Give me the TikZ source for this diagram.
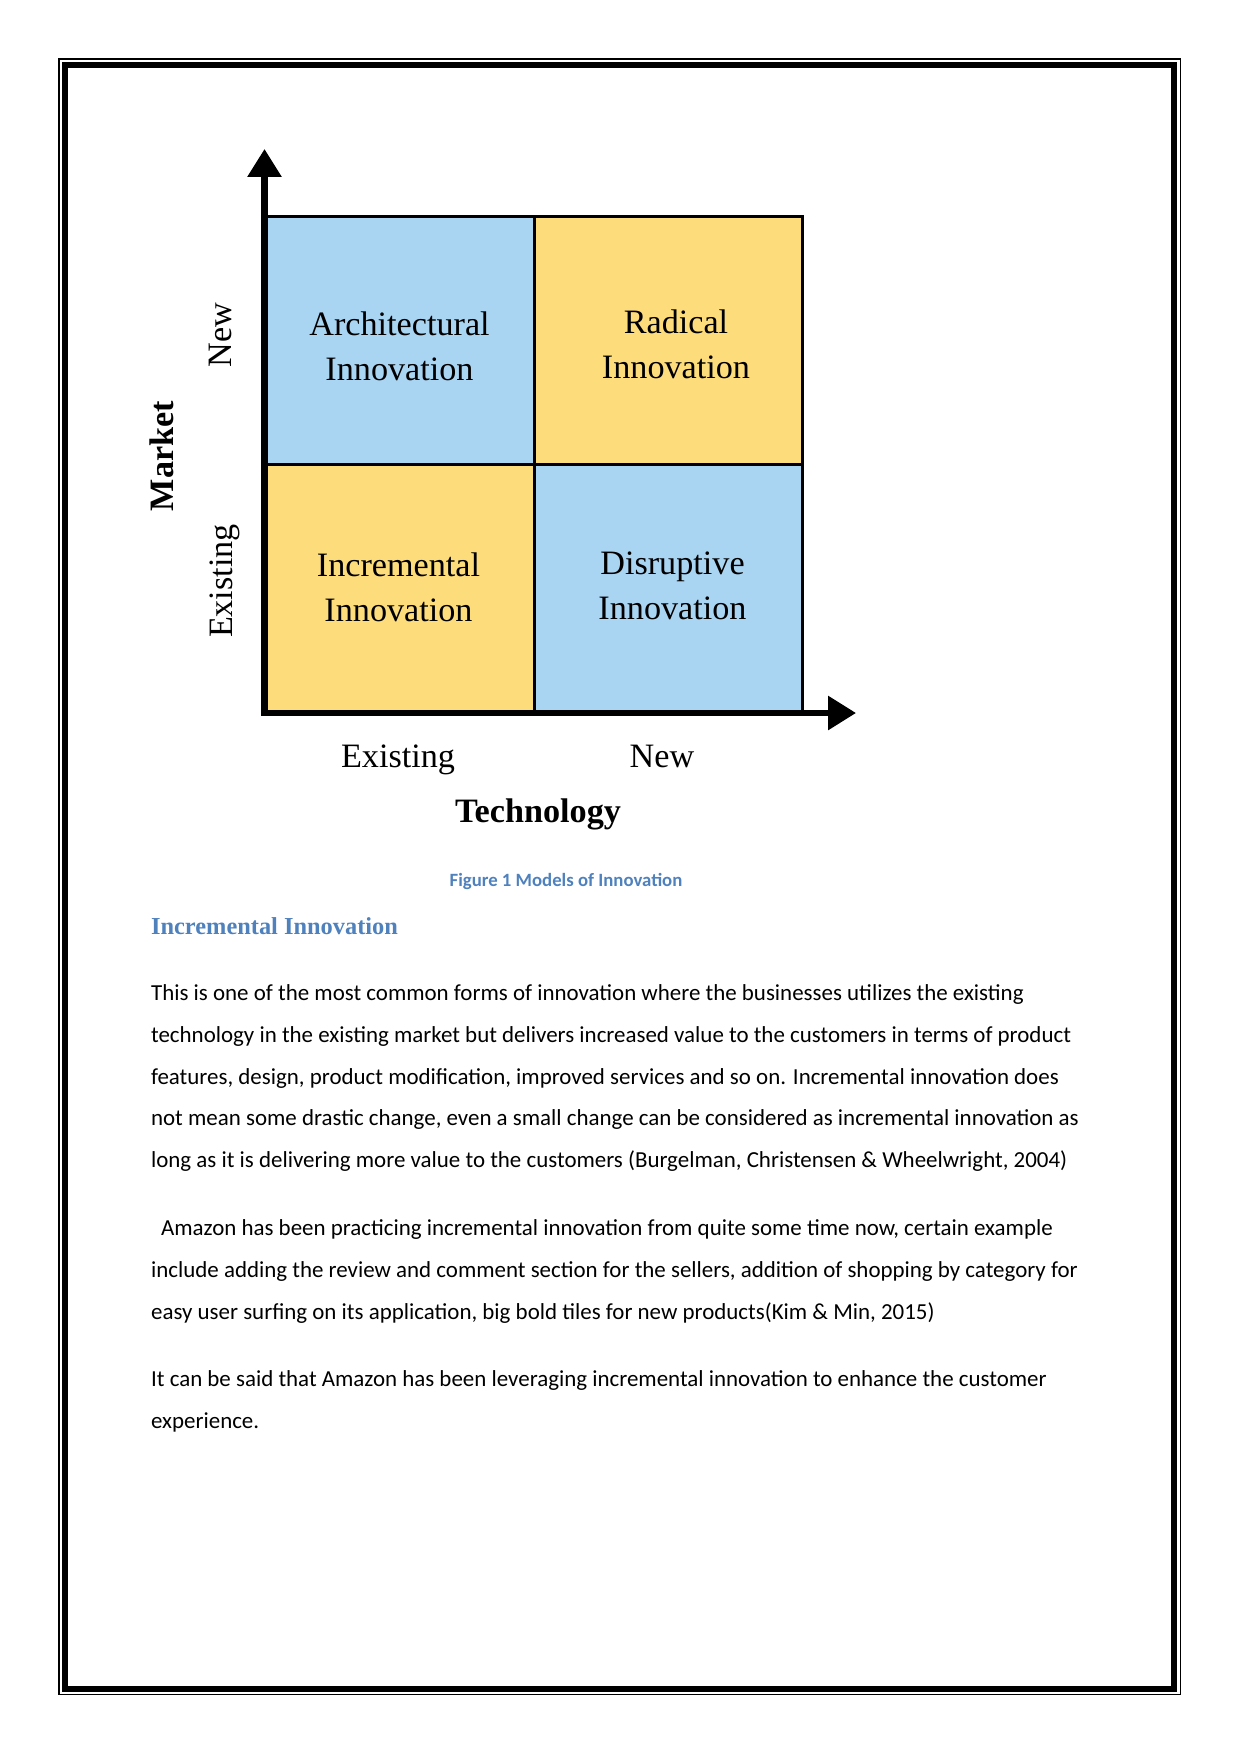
\documentclass[tikz,border=0pt]{standalone}
\usepackage{fontspec}
\usetikzlibrary{arrows.meta}
\newfontfamily\diagfont{Liberation Serif}
\newfontfamily\bodyfont{Carlito}
\newfontfamily\headfont{Liberation Serif}
\definecolor{cellblue}{RGB}{169,213,243}
\definecolor{cellyellow}{RGB}{253,220,124}
\definecolor{headblue}{RGB}{79,129,189}
\tikzset{
  cell/.style={draw, line width=1.4pt, minimum width=128.6pt, minimum height=118.7pt, inner sep=0pt},
  celltext/.style={inner sep=0pt, align=center, font=\diagfont\fontsize{16.4}{21.6}\selectfont},
  axislab/.style={anchor=base, font=\diagfont\fontsize{16.4}{20}\selectfont, inner sep=0pt},
  sidelab/.style={rotate=90, font=\diagfont\fontsize{16.4}{20}\selectfont, inner sep=0pt},
  axis/.style={line width=2.9pt, {Triangle[length=13.4pt,width=15.8pt]}-{Triangle[length=13.4pt,width=15.8pt]}},
  para/.style={anchor=base west, inner sep=0pt, align=left,
    font=\bodyfont\fontsize{11}{20.03}\selectfont}
}
\begin{document}
\begin{tikzpicture}[x=0.4797pt, y=-0.4797pt]
  \useasboundingbox (0,0) rectangle (1241,1754);
  \draw [line width=0.72pt] (59.2,59.2) rectangle (1180.3,1694.3);
  \draw [line width=2.9pt] (65,64.7) rectangle (1174,1689);
  \node [cell, fill=cellblue] (arch) at (400.5,340.5) {};
  \node [cell, fill=cellyellow] (radical) at (668.5,340.5) {};
  \node [cell, fill=cellyellow] (incr) at (400.5,588) {};
  \node [cell, fill=cellblue] (disrupt) at (668.5,588) {};
  \node [celltext] (archtext) at (399.5,346.5) {Architectural\\Innovation};
  \node [celltext] (radtext) at (676,344) {Radical\\Innovation};
  \node [celltext] (incrtext) at (398.5,587.5) {Incremental\\Innovation};
  \node [celltext] (disrtext) at (672.5,585.5) {Disruptive\\Innovation};
  \coordinate (origin) at (264.5,713);
  \coordinate (ytip) at (264.5,149);
  \coordinate (xtip) at (856,713);
  \draw [axis] (ytip) -- (origin) -- (xtip);
  \node [sidelab] (mnew) at (220,335) {New};
  \node [sidelab] (mexist) at (225,581) {Existing};
  \node [sidelab, font=\diagfont\bfseries\fontsize{16.4}{20}\selectfont] (market) at (162,456) {Market};
  \node [axislab] (texist) at (398,767) {Existing};
  \node [axislab] (tnew) at (662,767) {New};
  \node [axislab, font=\diagfont\bfseries\fontsize{16.4}{20}\selectfont] (tech) at (538,822) {Technology};
  \node [anchor=base, inner sep=0pt, text=headblue, font=\bodyfont\bfseries\fontsize{9}{11}\selectfont] (caption) at (566,886) {Figure 1 Models of Innovation};
  \node [anchor=base west, inner sep=0pt, text=headblue, font=\headfont\bfseries\fontsize{11.7}{14}\selectfont] (heading) at (150.7,934) {Incremental Innovation};
  % paragraphs: base anchor sits on the last line
  \node [para] (p1) at (150.7,1167.7) {This is one of the most common forms of innovation where the businesses utilizes the existing\\
    technology in the existing market but delivers increased value to the customers in terms of product\\
    features, design, product modification, improved services and so on. Incremental innovation does\\
    not mean some drastic change, even a small change can be considered as incremental innovation as\\
    long as it is delivering more value to the customers (Burgelman, Christensen \& Wheelwright, 2004)};
  \node [para] (p2) at (150.7,1319) {\hspace*{4.8pt}Amazon has been practicing incremental innovation from quite some time now, certain example\\
    include adding the review and comment section for the sellers, addition of shopping by category for\\
    easy user surfing on its application, big bold tiles for new products(Kim \& Min, 2015)};
  \node [para] (p3) at (150.7,1428.3) {It can be said that Amazon has been leveraging incremental innovation to enhance the customer\\
    experience.};
\end{tikzpicture}
\end{document}
